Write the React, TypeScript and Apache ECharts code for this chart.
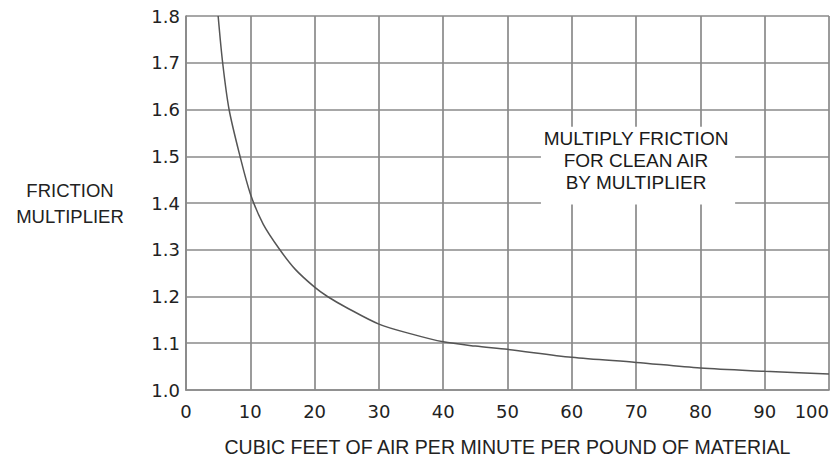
import React, { useEffect, useRef } from "react";
import * as echarts from "echarts";

const xTicks = [0, 10, 20, 30, 40, 50, 60, 70, 80, 90, 100];
const curveX = [5.0, 5.7, 6.7, 8.4, 10, 12, 14.6, 17, 20, 22, 25, 30, 35, 40, 45, 50, 60, 70, 80, 90, 100];
const curveY = [1.8, 1.7, 1.6, 1.5, 1.42, 1.355, 1.3, 1.258, 1.22, 1.2, 1.176, 1.141, 1.12, 1.103, 1.094, 1.087, 1.07, 1.059, 1.047, 1.04, 1.034];
const yAxisTitle = ["FRICTION", "MULTIPLIER"];
const xAxisTitle = "CUBIC FEET OF AIR PER MINUTE PER POUND OF MATERIAL";
const noteLines = ["MULTIPLY FRICTION", "FOR CLEAN AIR", "BY MULTIPLIER"];
const noteBox = [[55.2, 1.563], [85.4, 1.397]];

export default function App() {
  const ref = useRef<HTMLDivElement>(null);
  useEffect(() => {
    if (!ref.current) return;
    const chart = echarts.init(ref.current, null, { renderer: "svg" });
    const gridColor = "#8a8a8a";
    const tickFont = { fontFamily: "DejaVu Sans", fontSize: 18, color: "#222" };
    chart.setOption({
      animation: false,
      backgroundColor: "#fff",
      grid: { left: 186, top: 16, right: 10, bottom: 71, containLabel: false },
      xAxis: {
        type: "value",
        min: 0,
        max: 100,
        interval: 10,
        name: xAxisTitle,
        nameLocation: "middle",
        nameGap: 47,
        nameTextStyle: { fontFamily: "Liberation Sans", fontSize: 19.5, color: "#222" },
        axisLine: { show: true, lineStyle: { color: gridColor, width: 1.7 } },
        axisTick: { show: false },
        splitLine: { show: true, lineStyle: { color: gridColor, width: 1.7 } },
        axisLabel: { ...tickFont, margin: 12, alignMaxLabel: "right", customValues: xTicks },
      },
      yAxis: {
        type: "value",
        min: 1.0,
        max: 1.8,
        interval: 0.1,
        axisLine: { show: true, lineStyle: { color: gridColor, width: 1.7 } },
        axisTick: { show: false },
        splitLine: { show: true, lineStyle: { color: gridColor, width: 1.7 } },
        axisLabel: { ...tickFont, margin: 6, formatter: (v: number) => v.toFixed(1) },
      },
      graphic: [
        {
          type: "text",
          x: 70,
          y: 203,
          style: {
            text: yAxisTitle.join("\n"),
            align: "center",
            verticalAlign: "middle",
            fontFamily: "Liberation Sans",
            fontSize: 18.5,
            lineHeight: 26,
            fill: "#222",
          },
        },
      ],
      series: [
        {
          type: "line",
          data: curveX.map((x, i) => [x, curveY[i]]),
          smooth: 0.3,
          showSymbol: false,
          lineStyle: { color: "#555", width: 1.5 },
          clip: true,
          markArea: {
            silent: true,
            itemStyle: { color: "#fff", borderWidth: 0 },
            label: {
              show: true,
              position: "inside",
              offset: [-2, -5],
              formatter: noteLines.join("\n"),
              fontFamily: "Liberation Sans",
              fontSize: 19,
              lineHeight: 22,
              color: "#1a1a1a",
              align: "center",
            },
            data: [[{ coord: noteBox[0] }, { coord: noteBox[1] }]],
          },
        },
      ],
    });
    return () => chart.dispose();
  }, []);
  return (
    <div
      ref={ref}
      style={{ position: "fixed", left: 0, top: 0, width: 839, height: 462 }}
    />
  );
}
